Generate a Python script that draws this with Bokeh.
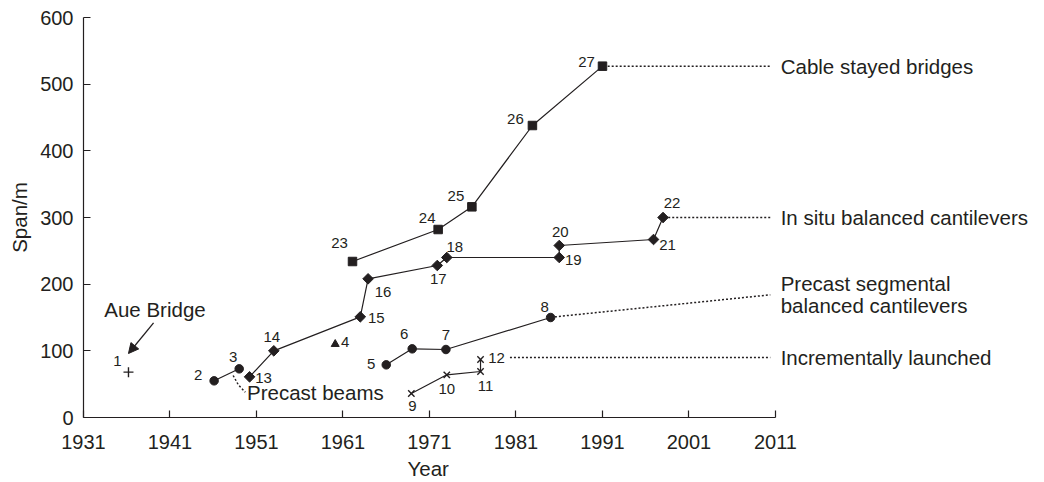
from bokeh.plotting import figure
from bokeh.models import Range1d, FixedTicker, ColumnDataSource, Arrow, NormalHead, Title
from bokeh.core.properties import value
from bokeh.embed import file_html
from bokeh.resources import INLINE

# ---------------- data ----------------
# Cable stayed bridges (squares)
cs_id = ["23", "24", "25", "26", "27"]
cs_year = [1962.1, 1972.0, 1975.9, 1982.9, 1991.0]
cs_span = [234, 282, 316, 438, 527]

# In situ balanced cantilevers (diamonds)
is_id = ["13", "14", "15", "16", "17", "18", "19", "20", "21", "22"]
is_year = [1950.2, 1953.0, 1963.0, 1963.9, 1971.9, 1973.0, 1986.0, 1986.0, 1996.9, 1998.0]
is_span = [61, 100, 151, 208, 228, 240, 240, 258, 267, 300]

# Precast segmental balanced cantilevers (circles)
ps_id = ["5", "6", "7", "8"]
ps_year = [1966.0, 1969.0, 1972.9, 1985.0]
ps_span = [79, 103, 102, 150]

# Precast beams (circles)
pb_id = ["2", "3"]
pb_year = [1946.1, 1949.0]
pb_span = [55, 73]

# Incrementally launched (crosses)
il_id = ["9", "10", "11", "12"]
il_year = [1968.9, 1973.0, 1976.9, 1976.9]
il_span = [36, 64, 69, 87]

# Single bridges
tri_id = ["4"]
tri_year = [1960.1]
tri_span = [110]
aue_id = ["1"]
aue_year = [1936.2]
aue_span = [68]

x_ticks = [1931, 1941, 1951, 1961, 1971, 1981, 1991, 2001, 2011]
y_ticks = [0, 100, 200, 300, 400, 500, 600]

# group labels placed right of the axis end
grp_text = ["Cable stayed bridges", "In situ balanced cantilevers", "Precast segmental",
            "balanced cantilevers", "Incrementally launched"]
grp_year = [2011.6, 2011.6, 2011.6, 2011.6, 2011.6]
grp_span = [527, 300, 201, 168, 90]

# other notes
note_text = ["Precast beams", "Aue Bridge"]
note_year = [1949.9, 1933.4]
note_span = [37, 162]

# annotation leaders (year, span)
lead_cs = ([1991.6, 2010.4], [527, 527])
lead_is = ([1998.6, 2010.4], [300, 300])
lead_ps = ([1985.5, 2010.4], [151, 184])
lead_il = ([1980.3, 2010.4], [90, 90])
lead_pb = ([1948.3, 1948.9, 1949.7], [63, 49, 38])
arrow_aue = (1939.1, 142, 1936.2, 96)

# ---------------- styles ----------------
INK = "#231f20"
FONT = "Liberation Sans"

# label offsets in screen pixels (dx, dy; dy positive = down)
cs_off = [(-13, -19), (-11, -12), (-16, -11), (-17, -7), (-16, -4)]
is_off = [(14, 1), (-2, -14), (16, 1), (15, 13), (1, 13), (8, -11), (14, 2), (1, -14), (14, 5), (9, -15)]
ps_off = [(-15, -1), (-8, -15), (0, -15), (-6, -11)]
pb_off = [(-16, -6), (-6, -12)]
il_off = [(1, 12), (0, 14), (5, 14), (16, -2)]
tri_off = [(10, -2)]
aue_off = [(-11, -11)]

p = figure(width=1044, height=482, output_backend="svg", toolbar_location=None,
           x_range=Range1d(1931, 2042.1), y_range=Range1d(0, 600),
           min_border_left=83, min_border_right=0, min_border_top=17, min_border_bottom=10)
p.outline_line_color = None
p.grid.visible = False
p.background_fill_color = "white"

for ax in (p.xaxis[0], p.yaxis[0]):
    ax.axis_line_color = INK
    ax.axis_line_width = 1.2
    ax.major_tick_line_color = INK
    ax.major_tick_line_width = 1.2
    ax.major_tick_in = 7
    ax.major_tick_out = 0
    ax.minor_tick_line_color = None
    ax.major_label_text_font = FONT
    ax.major_label_text_font_size = "20px"
    ax.major_label_text_color = INK
    ax.axis_label_text_font = FONT
    ax.axis_label_text_font_size = "20.5px"
    ax.axis_label_text_font_style = "normal"
    ax.axis_label_text_color = INK

p.xaxis.ticker = FixedTicker(ticks=x_ticks)
p.yaxis.ticker = FixedTicker(ticks=y_ticks)
p.xaxis.bounds = (1931, 2011)
p.yaxis.axis_label = "Span/m"
p.xaxis.major_label_standoff = 17
p.yaxis.major_label_standoff = 10
p.yaxis.axis_label_standoff = 6

# x axis title, centred under the 1931-2011 axis
p.add_layout(Title(text="Year", align="left", offset=324, standoff=6,
                   text_font=FONT, text_font_size="20.5px", text_font_style="normal",
                   text_color=INK), "below")

LW = 1.2
# connecting lines
p.line(cs_year, cs_span, line_color=INK, line_width=LW)
p.line(is_year, is_span, line_color=INK, line_width=LW)
p.line(ps_year, ps_span, line_color=INK, line_width=LW)
p.line(pb_year, pb_span, line_color=INK, line_width=LW)
p.line(il_year, il_span, line_color=INK, line_width=LW)

# dotted leaders
for xs, ys in (lead_cs, lead_is, lead_ps, lead_il, lead_pb):
    p.line(xs, ys, line_color=INK, line_width=1.5, line_dash="2 2")

# markers
p.scatter(cs_year, cs_span, marker="square", size=8.5, fill_color=INK, line_color=INK)
p.scatter(is_year, is_span, marker="square", size=7.5, angle=0.785398, fill_color=INK, line_color=INK)
p.scatter(ps_year, ps_span, marker="circle", size=8.5, fill_color=INK, line_color=INK)
p.scatter(pb_year, pb_span, marker="circle", size=8.5, fill_color=INK, line_color=INK)
p.scatter(il_year, il_span, marker="x", size=9, line_color=INK, line_width=1.4)
p.scatter(tri_year, tri_span, marker="triangle", size=8, fill_color=INK, line_color=INK)
p.scatter(aue_year, aue_span, marker="cross", size=10, line_color=INK, line_width=1.4)

# number labels
def num_labels(ids, xs, ys, offs):
    src = ColumnDataSource(dict(x=xs, y=ys, t=ids,
                                dx=[o[0] for o in offs], dy=[o[1] for o in offs]))
    p.text(x="x", y="y", text="t", source=src, x_offset="dx", y_offset="dy",
           text_align="center", text_baseline="middle",
           text_font=value(FONT), text_font_size="15px", text_color=INK)

num_labels(cs_id, cs_year, cs_span, cs_off)
num_labels(is_id, is_year, is_span, is_off)
num_labels(ps_id, ps_year, ps_span, ps_off)
num_labels(pb_id, pb_year, pb_span, pb_off)
num_labels(il_id, il_year, il_span, il_off)
num_labels(tri_id, tri_year, tri_span, tri_off)
num_labels(aue_id, aue_year, aue_span, aue_off)

# text annotations
p.text(x=grp_year, y=grp_span, text=grp_text, text_align="left", text_baseline="middle",
       text_font=value(FONT), text_font_size="20.5px", text_color=INK)
p.text(x=note_year, y=note_span, text=note_text, text_align="left", text_baseline="middle",
       text_font=value(FONT), text_font_size="20.5px", text_color=INK)

p.add_layout(Arrow(end=NormalHead(size=10, fill_color=INK, line_color=INK, line_width=1),
                   x_start=arrow_aue[0], y_start=arrow_aue[1],
                   x_end=arrow_aue[2], y_end=arrow_aue[3],
                   line_color=INK, line_width=1.3))

open("out.html", "w").write(file_html(p, INLINE))
